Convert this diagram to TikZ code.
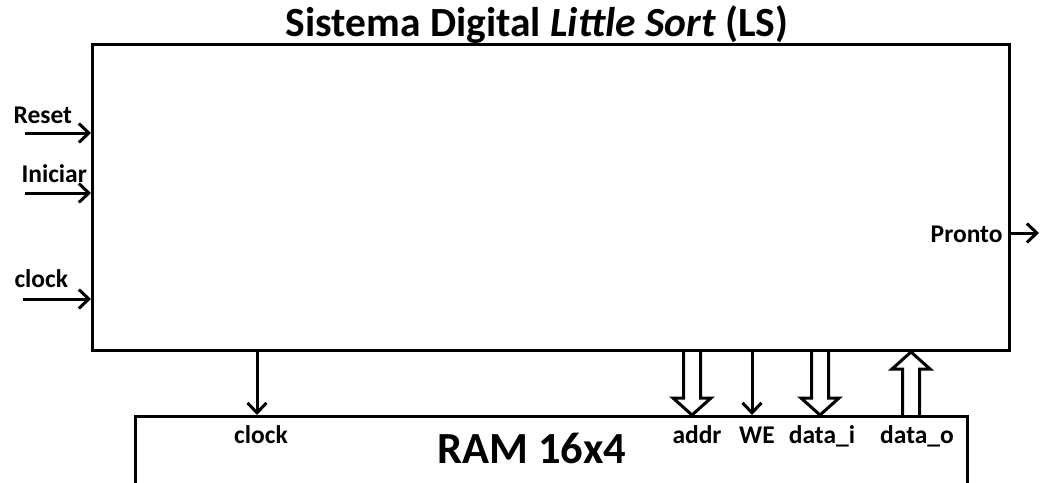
\documentclass[tikz,border=0pt]{standalone}
\usepackage{fontspec}
\setmainfont{Carlito}
\usetikzlibrary{arrows.meta,calc}
\newcommand\busarrow[2]{%
  \coordinate (bh) at ($(#2)!17pt!(#1)$);
  \draw[bus] ($(#1)+(-8.5,0)$) -- ($(bh)+(-8.5,0)$) -- ($(bh)+(-19,0)$) -- (#2)
    -- ($(bh)+(19,0)$) -- ($(bh)+(8.5,0)$) -- ($(#1)+(8.5,0)$);}
\begin{document}
\begin{tikzpicture}[x=1pt,y=-1pt,line width=3pt,
  lbl/.style={font=\bfseries\fontsize{25.5}{25.5}\selectfont,inner sep=0pt},
  sig/.style={-{Straight Barb[length=10pt,width=19pt]}},
  bus/.style={line width=3pt,line join=miter},
  box/.style={draw,line width=3pt,inner sep=0pt,anchor=north west}]
\clip (0,0) rectangle (1040,482);
\fill[white] (0,0) rectangle (1040,482);
\node[box,minimum width=917pt,minimum height=306pt] (ls) at (91,43) {};
\node[box,minimum width=832pt,minimum height=120pt] (ram) at (134,415) {};
\node[inner sep=0pt,anchor=base,font=\bfseries\fontsize{41.5}{41.5}\selectfont] (title) at (537,36) {Sistema Digital \textit{Little Sort} (LS)};
% inputs
\node[lbl,anchor=base west] (lreset) at (12,123) {Reset};
\node[lbl,anchor=base west] (liniciar) at (20,182) {Iniciar};
\node[lbl,anchor=base west] (lclock) at (13,287) {clock};
\coordinate (rst) at (25,133);
\coordinate (ini) at (25,193);
\coordinate (clk) at (23,299);
\draw[sig] (rst) -- (rst -| ls.west);
\draw[sig] (ini) -- (ini -| ls.west);
\draw[sig] (clk) -- (clk -| ls.west);
% output
\node[lbl,anchor=base east] (lpronto) at (1004,242) {Pronto};
\coordinate (pr) at (1039,233);
\draw[sig] (pr -| ls.east) -- (pr);
% RAM
\node[inner sep=0pt,anchor=base,font=\bfseries\fontsize{44.5}{44.5}\selectfont] (ramt) at (532,463) {RAM 16x4};
\node[lbl,anchor=base] (rclock) at (261,443) {clock};
\node[lbl,anchor=base] (raddr) at (697,443) {addr};
\node[lbl,anchor=base] (rwe) at (757,443) {WE};
\node[lbl,anchor=base] (rdi) at (822,443) {data\_i};
\node[lbl,anchor=base] (rdo) at (917,443) {data\_o};
\coordinate (ck) at (257,0);
\coordinate (ad) at (692,0);
\coordinate (we) at (752,0);
\coordinate (di) at (820,0);
\coordinate (do) at (911,0);
\draw[sig] (ls.south -| ck) -- (ram.north -| ck);
\draw[sig] (ls.south -| we) -- (ram.north -| we);
\coordinate (adT) at (ls.south -| ad);
\coordinate (adB) at (ram.north -| ad);
\coordinate (diT) at (ls.south -| di);
\coordinate (diB) at (ram.north -| di);
\coordinate (doT) at (ls.south -| do);
\coordinate (doB) at (ram.north -| do);
\busarrow{adT}{adB}
\busarrow{diT}{diB}
\busarrow{doB}{doT}
\end{tikzpicture}
\end{document}
